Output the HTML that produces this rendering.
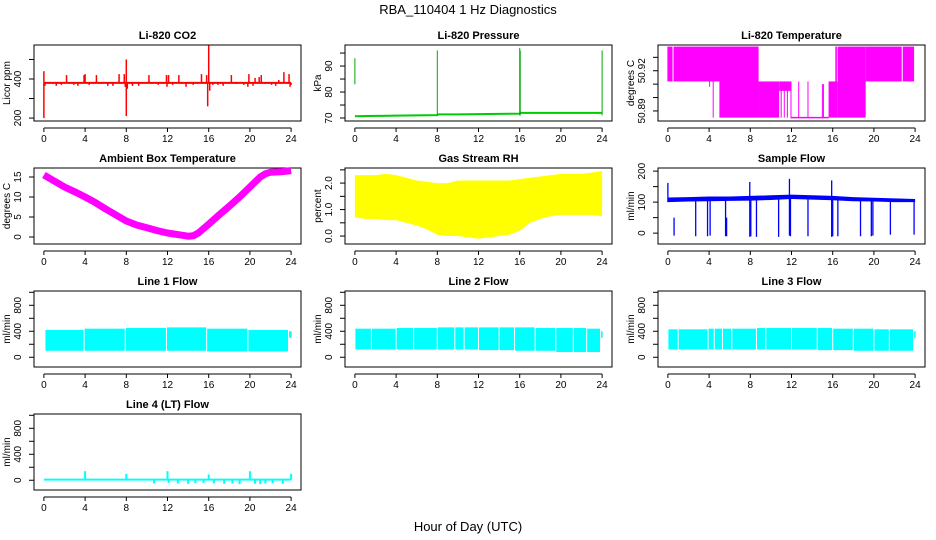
<!DOCTYPE html>
<html><head><meta charset="utf-8"><style>
html,body{margin:0;padding:0;background:#fff;}
svg{display:block;font-family:"Liberation Sans",Helvetica,Arial,sans-serif;}
</style></head><body>
<svg id="chart" width="936" height="540" viewBox="0 0 936 540" xmlns="http://www.w3.org/2000/svg">
<text x="468" y="14" text-anchor="middle" font-size="13">RBA_110404  1 Hz Diagnostics</text>
<text x="468" y="531" text-anchor="middle" font-size="13">Hour of Day (UTC)</text>
</svg>
<script>
// ---- data ----
const xTicks = [0,4,8,12,16,20,24];
// CO2: baseline and spikes [hour, value]
const co2Base = 380;
const co2Spikes = [[0,200],[0,440],[0.1,365],[1.2,365],[1.7,370],[2.2,420],[2.9,370],[3.3,365],[3.9,420],[4.0,425],[4.4,370],[5.1,420],[5.6,375],[6.2,365],[6.7,365],[7.3,425],[7.8,425],[7.9,360],[8.0,210],[8.0,500],[8.1,350],[8.6,365],[9.2,365],[10.2,420],[11.1,370],[11.9,420],[11.95,360],[12.1,420],[12.5,370],[13.1,420],[13.8,360],[14.5,370],[15.3,425],[15.8,420],[15.9,260],[16.0,572],[16.1,340],[16.4,370],[16.9,370],[17.4,365],[18.2,420],[18.7,375],[19.4,370],[19.8,360],[19.9,425],[20.3,365],[20.5,405],[20.9,410],[21.1,420],[21.5,375],[22.1,370],[22.5,365],[22.8,395],[23.3,435],[23.8,425],[23.9,360],[24.0,370]];
// Pressure
const presHours = [0,2,4,6,8,8.1,10,12,14,16,16.1,18,20,22,24];
const presVals = [70.7,70.8,70.9,71.0,71.1,71.4,71.4,71.5,71.6,71.7,72.0,72.0,72.0,72.0,72.0];
const presSpikes = [[0,83,93],[8,71,96],[16,71,97],[16.05,71,96],[24,71,96]];
// Li-820 temperature bands [h0,h1,lo,hi]
const ltBands = [[0,0.45,50.912,50.938],[0.55,8.8,50.912,50.938],[5.0,8.8,50.885,50.938],[8.8,10.8,50.885,50.912],[10.8,11.95,50.905,50.912],[11.9,12.0,50.885,50.912],[15.6,16.5,50.885,50.912],[16.5,19.2,50.885,50.938],[19.2,22.7,50.912,50.938],[22.8,23.9,50.912,50.938]];
const ltLines = [[4.4,50.885,50.912],[4.05,50.908,50.912],[11.0,50.885,50.912],[11.3,50.885,50.912],[11.6,50.885,50.912],[12.7,50.885,50.912],[13.6,50.885,50.912],[15.0,50.885,50.910],[15.1,50.885,50.910],[16.3,50.912,50.938],[16.4,50.912,50.938],[0,50.912,50.938]];
const ltBaseHours = [11.9,15.6];
const ltBaseVal = 50.885;
// Ambient box temperature
const ambHours = [0,1,2,3,4,5,6,7,8,9,10,11,12,13,14,14.5,15,16,17,18,19,20,21,21.5,22,23,24];
const ambVals = [15.5,14,12.5,11.3,10,8.6,7,5.5,4,3,2.3,1.6,1,0.6,0.2,0.3,1,3.2,5.5,7.7,10,12.5,15,15.8,16.2,16.3,16.6];
// Gas stream RH envelopes
const rhHours = [0,1,2,3,4,5,6,7,8,9,10,11,12,13,14,15,16,17,18,19,20,21,22,23,24];
const rhHigh = [2.3,2.3,2.3,2.35,2.3,2.2,2.1,2.05,2.0,2.0,2.1,2.1,2.1,2.1,2.1,2.1,2.15,2.2,2.25,2.3,2.35,2.35,2.35,2.4,2.45];
const rhLow = [0.7,0.65,0.65,0.6,0.6,0.5,0.4,0.25,0.05,0.0,0.0,-0.05,-0.1,-0.05,0.0,0.05,0.2,0.5,0.65,0.75,0.8,0.8,0.8,0.8,0.75];
// Sample flow
const sfHours = [0,2,4,6,8,10,12,14,16,18,20,22,24];
const sfLow = [100,102,103,104,105,107,110,108,106,103,102,100,100];
const sfHigh = [115,116,118,118,120,122,124,122,120,116,114,112,110];
const sfSpikes = [[0,100,162],[0.6,-8,50],[2.7,-10,110],[3.85,-10,110],[4.1,-8,110],[5.6,-10,110],[5.7,-10,50],[7.95,-12,165],[8.05,-10,110],[8.6,-12,110],[10.75,-12,110],[11.8,-8,175],[11.9,-10,110],[13.6,-10,110],[15.9,-12,170],[16.0,-10,110],[16.5,-10,110],[18.7,-10,110],[19.75,-10,110],[19.9,-8,110],[21.6,-5,110],[23.9,-5,110]];
// Line flows: breaks (gaps), band low/high per segment
const l1Breaks = [0.1,3.9,7.9,11.9,15.8,19.8,23.75];
const l1Low = [100,100,100,100,90,90];
const l1High = [420,440,450,460,440,420];
const l2Breaks = [0,1.6,4.0,5.7,8.0,9.7,10.6,12.0,14.0,15.5,17.5,19.5,21.2,22.5,23.85];
const l2Low = [120,120,120,120,120,120,120,110,110,100,100,80,80,80];
const l2High = [440,440,450,450,460,460,460,460,460,460,450,450,450,440];
const l3Breaks = [0,1.0,3.9,4.5,5.3,6.2,8.6,9.5,12.0,14.5,16.0,18.0,20.0,21.5,23.85];
const l3Low = [120,120,120,120,120,120,120,120,120,110,110,100,100,100];
const l3High = [430,430,440,440,440,440,450,450,450,450,440,440,430,430];
const l4Spikes = [[4,140],[8,100],[12,140],[16,90],[20,140],[24,100],[10.7,-50],[12.1,-40],[13,-50],[14,-55],[14.7,-45],[15.5,-40],[16.5,-50],[17.5,-55],[18.3,-50],[19,-60],[20.5,-55],[21,-60],[21.5,-50],[22.2,-45],[23.2,-55]];

// ---- layout ----
const NS = "http://www.w3.org/2000/svg";
const svg = document.getElementById('chart');
const colL = [34,345,658], W = 267, rowT = [45,168,291,414], H = 76;
function el(tag, a, parent){const e=document.createElementNS(NS,tag);for(const k in a)e.setAttribute(k,a[k]);(parent||svg).appendChild(e);return e;}

function panel(col,row,title,ylab,ymin,ymax,ticks,labels,key){
  const g = el('g',{});
  
  
  const L=colL[col], T=rowT[row];
  const xs = h => L + (h+0.96)/25.92*W;
  const ys = v => T + H - (v-ymin)/(ymax-ymin)*H;
  const t = el('text',{x:L+W/2,y:T-6,'text-anchor':'middle','font-size':'11','font-weight':'bold'},g);
  t.textContent = title;
  
  
  const box = el('rect',{x:L,y:T,width:W,height:H,fill:'none',stroke:'#000','stroke-width':1},g);
  
  
  // x axis
  const xa = el('g',{},g);
  
  
  const ay = T+H+7;
  el('line',{x1:xs(0),x2:xs(24),y1:ay,y2:ay,stroke:'#000'},xa);
  xTicks.forEach(h=>{
    el('line',{x1:xs(h),x2:xs(h),y1:ay,y2:ay+4,stroke:'#000'},xa);
    const tl = el('text',{x:xs(h),y:ay+14,'text-anchor':'middle','font-size':'10'},xa);
    tl.textContent = h;
  });
  // y axis
  const ya = el('g',{},g);
  
  
  ticks.forEach(v=>{ el('line',{x1:L-5,x2:L,y1:ys(v),y2:ys(v),stroke:'#000'},ya); });
  labels.forEach(v=>{
    const y=ys(v[0]);
    const tl = el('text',{x:L-13,y:y,'text-anchor':'middle','font-size':'10',transform:`rotate(-90 ${L-13} ${y})`},ya);
    tl.textContent = v[1];
  });
  const yl = el('text',{x:L-24,y:T+H/2,'text-anchor':'middle','font-size':'10',transform:`rotate(-90 ${L-24} ${T+H/2})`},g);
  yl.textContent = ylab;
  
  
  const d = el('g',{},g);
  
  
  return {xs,ys,g:d};
}
function vline(p,h,a,b,c,w){el('line',{x1:p.xs(h),x2:p.xs(h),y1:p.ys(a),y2:p.ys(b),stroke:c,'stroke-width':w||1},p.g);}
function poly(p,hs,vs,c,w){el('polyline',{points:hs.map((h,i)=>p.xs(h)+','+p.ys(vs[i])).join(' '),fill:'none',stroke:c,'stroke-width':w||1,'stroke-linejoin':'round'},p.g);}
function band(p,hs,lo,hi,c){const pts=hs.map((h,i)=>p.xs(h)+','+p.ys(hi[i])).concat(hs.map((h,i)=>p.xs(h)+','+p.ys(lo[i])).reverse());el('polygon',{points:pts.join(' '),fill:c},p.g);}
function rectB(p,h0,h1,lo,hi,c){el('rect',{x:p.xs(h0),y:p.ys(hi),width:Math.max(0.5,p.xs(h1)-p.xs(h0)),height:p.ys(lo)-p.ys(hi),fill:c},p.g);}

// CO2
let p = panel(0,0,'Li-820 CO2','Licor ppm',185,574,[200,300,400,500],[[200,'200'],[400,'400']],'co2');
poly(p,[0,24],[co2Base,co2Base],'#f00',2);
co2Spikes.forEach(s=>vline(p,s[0],co2Base,s[1],'#f00',1.5));
// Pressure
p = panel(1,0,'Li-820 Pressure','kPa',68.85,98.1,[70,75,80,85,90,95],[[70,'70'],[80,'80'],[90,'90']],'pressure');
poly(p,presHours,presVals,'#0c0',2);
presSpikes.forEach(s=>vline(p,s[0],s[1],s[2],'#0a0',1));
// Li-820 temperature
p = panel(2,0,'Li-820 Temperature','degrees C',50.8825,50.9392,[50.89,50.90,50.91,50.92,50.93],[[50.89,'50.89'],[50.92,'50.92']],'li820-temp');
ltBands.forEach(b=>rectB(p,b[0],b[1],b[2],b[3],'#f0f'));
ltLines.forEach(s=>vline(p,s[0],s[1],s[2],'#f0f',1));
poly(p,ltBaseHours,[ltBaseVal,ltBaseVal],'#f0f',1.5);
// Ambient
p = panel(0,1,'Ambient Box Temperature','degrees C',-1.75,17.25,[0,5,10,15],[[0,'0'],[5,'5'],[10,'10'],[15,'15']],'ambient-temp');
poly(p,ambHours,ambVals,'#f0f',7);
// RH
p = panel(1,1,'Gas Stream RH','percent',-0.3,2.57,[0,0.5,1,1.5,2,2.5],[[0,'0.0'],[1,'1.0'],[2,'2.0']],'gas-rh');
band(p,rhHours,rhLow,rhHigh,'#ff0');
// Sample flow
p = panel(2,1,'Sample Flow','ml/min',-35,210,[0,50,100,150,200],[[0,'0'],[100,'100'],[200,'200']],'sample-flow');
band(p,sfHours,sfLow,sfHigh,'#00f');
sfSpikes.forEach(s=>vline(p,s[0],s[1],s[2],'#00f',1.3));
// Line flows
const fTicks=[0,200,400,600,800,1000], fLabels=[[0,'0'],[400,'400'],[800,'800']];
function flow(col,row,title,key,br,lo,hi){
  const q = panel(col,row,title,'ml/min',-150,1020,fTicks,fLabels,key);
  for(let i=0;i<lo.length;i++){ rectB(q,br[i]+0.05,br[i+1]-0.05,lo[i],hi[i],'#0ff'); }
  rectB(q,br[br.length-1]+0.05,24.05,300,400,'#0ff');
  return q;
}
flow(0,2,'Line 1 Flow','line1-flow',l1Breaks,l1Low,l1High);
flow(1,2,'Line 2 Flow','line2-flow',l2Breaks,l2Low,l2High);
flow(2,2,'Line 3 Flow','line3-flow',l3Breaks,l3Low,l3High);
p = panel(0,3,'Line 4 (LT) Flow','ml/min',-150,1020,fTicks,fLabels,'line4-flow');
rectB(p,0,24,-5,25,'#0ff');
l4Spikes.forEach(s=>vline(p,s[0],10,s[1],'#0ff',2));
</script>
</body></html>
